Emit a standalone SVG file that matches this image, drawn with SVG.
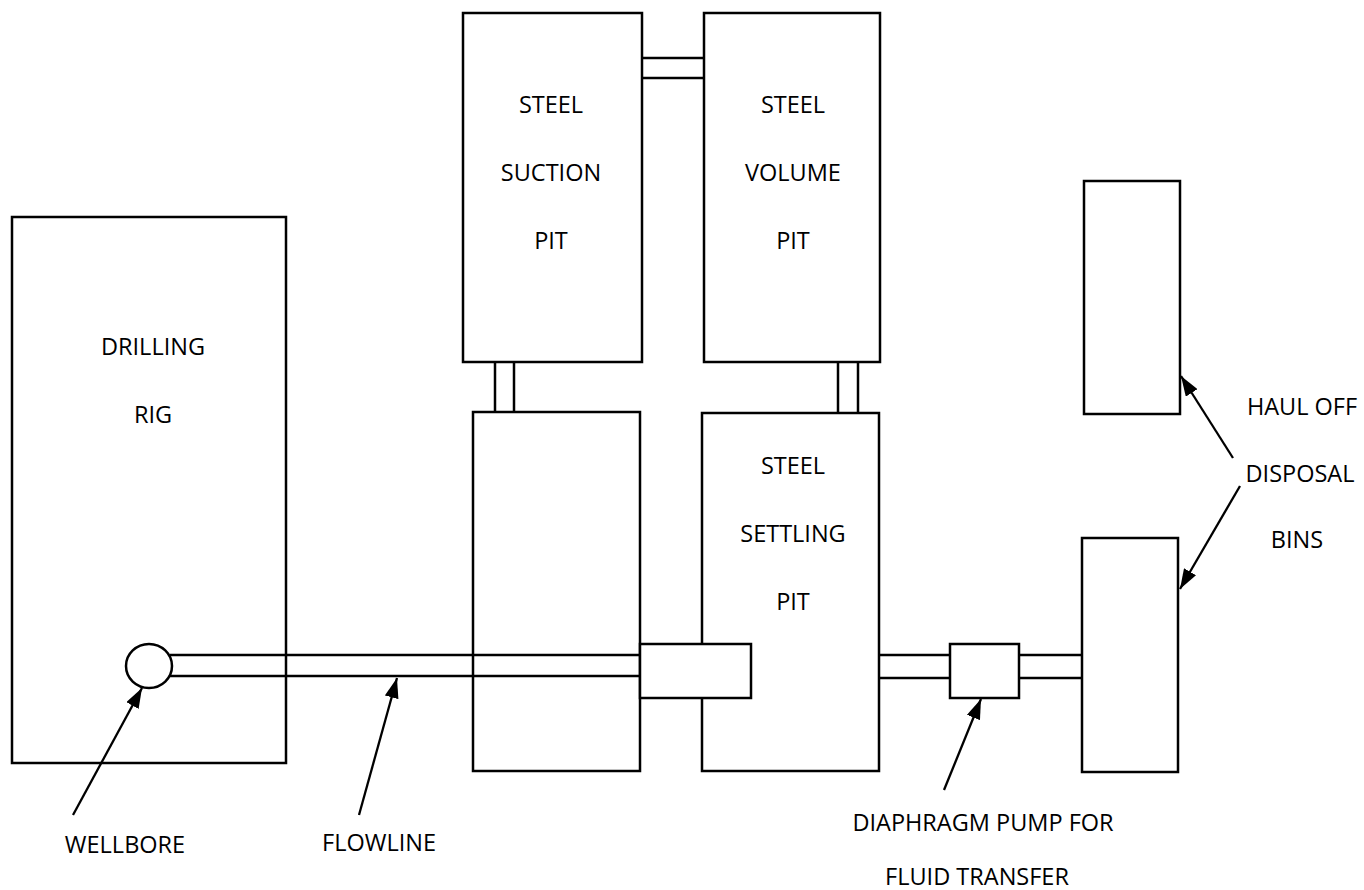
<svg xmlns="http://www.w3.org/2000/svg" width="1364" height="890" viewBox="0 0 1364 890">
<defs>
<style>
.box{fill:#fff;stroke:#000;stroke-width:2.5}
.ln{fill:none;stroke:#000;stroke-width:2.5}
.ar{fill:none;stroke:#000;stroke-width:2.3}
text{font-family:"Open Sans","Liberation Sans",sans-serif;font-size:23.5px;fill:#000;text-anchor:middle}
</style>
<marker id="ah" viewBox="0 0 20 14" refX="20" refY="7" markerWidth="20" markerHeight="14" markerUnits="userSpaceOnUse" orient="auto">
<path d="M0,0 L20,7 L0,14 Z" fill="#000"/>
</marker>
</defs>
<rect width="1364" height="890" fill="#fff"/>

<g id="drilling-rig">
<rect class="box" x="12" y="217" width="274" height="546"/>
<text x="153" y="355">DRILLING</text>
<text x="153" y="423">RIG</text>
</g>

<g id="suction-pit">
<rect class="box" x="463" y="13" width="179" height="349"/>
<text x="551" y="113">STEEL</text>
<text x="551" y="181">SUCTION</text>
<text x="551" y="249">PIT</text>
</g>

<g id="volume-pit">
<rect class="box" x="704" y="13" width="176" height="349"/>
<text x="793" y="113">STEEL</text>
<text x="793" y="181">VOLUME</text>
<text x="793" y="249">PIT</text>
</g>

<g id="lower-left-pit">
<rect class="box" x="473" y="412" width="167" height="359"/>
</g>

<g id="settling-pit">
<rect class="box" x="702" y="413" width="177" height="358"/>
<text x="793" y="474">STEEL</text>
<text x="793" y="542">SETTLING</text>
<text x="793" y="610">PIT</text>
</g>

<g id="bin-upper">
<rect class="box" x="1084" y="181" width="96" height="233"/>
</g>
<g id="bin-lower">
<rect class="box" x="1082" y="538" width="96" height="234"/>
</g>

<g id="connectors">
<line class="ln" x1="642" y1="58" x2="704" y2="58"/>
<line class="ln" x1="642" y1="78" x2="704" y2="78"/>
<line class="ln" x1="495" y1="362" x2="495" y2="412"/>
<line class="ln" x1="514" y1="362" x2="514" y2="412"/>
<line class="ln" x1="838" y1="362" x2="838" y2="413"/>
<line class="ln" x1="858" y1="362" x2="858" y2="413"/>
<line class="ln" x1="170" y1="655" x2="640" y2="655"/>
<line class="ln" x1="170" y1="676" x2="640" y2="676"/>
<line class="ln" x1="879" y1="655" x2="950" y2="655"/>
<line class="ln" x1="879" y1="678" x2="950" y2="678"/>
<line class="ln" x1="1019" y1="655" x2="1082" y2="655"/>
<line class="ln" x1="1019" y1="678" x2="1082" y2="678"/>
</g>

<g id="junction-box">
<rect class="box" x="640" y="644" width="111" height="54"/>
</g>

<g id="wellbore">
<ellipse class="box" cx="149" cy="666" rx="23" ry="22"/>
</g>

<g id="pump">
<rect class="box" x="950" y="644" width="69" height="54"/>
</g>

<g id="arrows">
<line class="ar" x1="73" y1="815" x2="142" y2="688" marker-end="url(#ah)"/>
<line class="ar" x1="359" y1="815" x2="397" y2="678" marker-end="url(#ah)"/>
<line class="ar" x1="944" y1="790" x2="981" y2="699" marker-end="url(#ah)"/>
<line class="ar" x1="1233" y1="458" x2="1181" y2="376" marker-end="url(#ah)"/>
<line class="ar" x1="1240" y1="486" x2="1180" y2="589" marker-end="url(#ah)"/>
</g>

<g id="labels">
<text x="125" y="853">WELLBORE</text>
<text x="379" y="851">FLOWLINE</text>
<text x="983" y="831">DIAPHRAGM PUMP FOR</text>
<text x="977" y="885">FLUID TRANSFER</text>
<text x="1302" y="415">HAUL OFF</text>
<text x="1300" y="482">DISPOSAL</text>
<text x="1297" y="548">BINS</text>
</g>
</svg>
